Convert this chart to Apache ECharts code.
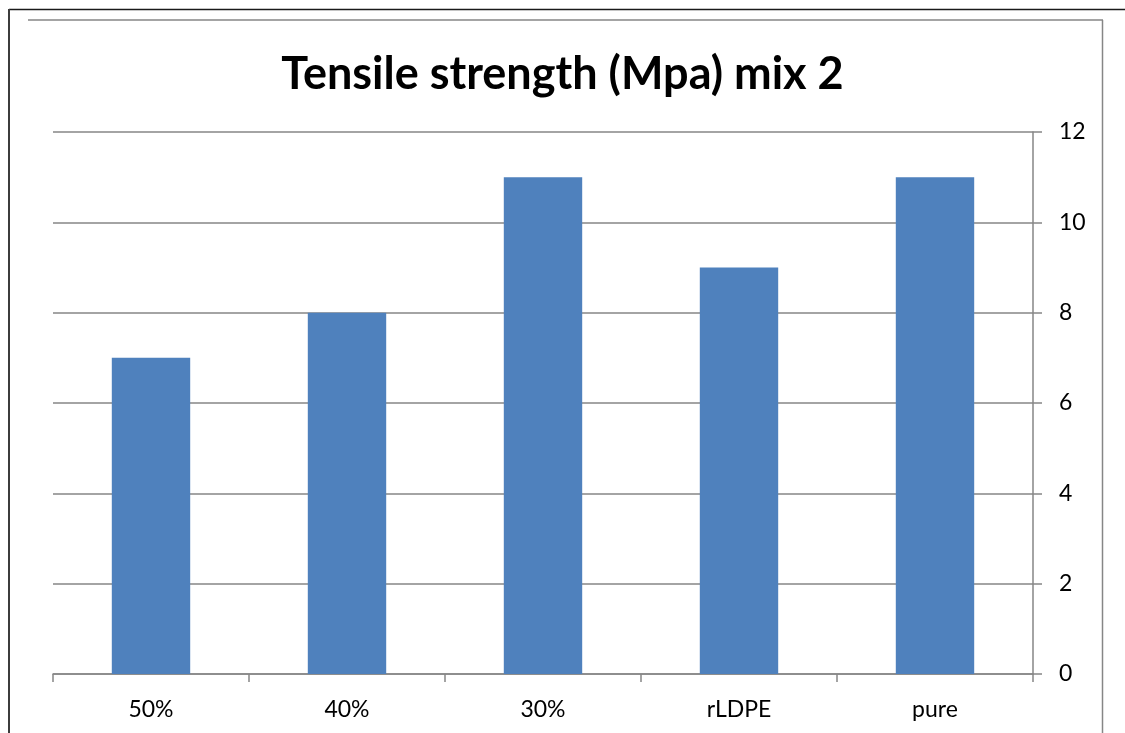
<!DOCTYPE html>
<html>
<head>
<meta charset="utf-8">
<style>
  html, body { margin: 0; padding: 0; background: #ffffff; }
  #chart { width: 1125px; height: 733px; }
</style>
<script src="https://cdn.jsdelivr.net/npm/echarts@6/dist/echarts.min.js"></script>
</head>
<body>
<div id="chart"></div>
<script>
// Sample groups and their tensile strength (MPa)
const categories = ['50%', '40%', '30%', 'rLDPE', 'pure'];
const tensileStrength = [7, 8, 11, 9, 11];
const yTicks = [0, 2, 4, 6, 8, 10, 12];

const chart = echarts.init(document.getElementById('chart'), null, { renderer: 'canvas' });
const FONT = 'Lato, "Open Sans", sans-serif';
const AXIS_GRAY = '#868686';

chart.setOption({
  animation: false,
  backgroundColor: '#ffffff',
  title: {
    text: 'Tensile strength (Mpa) mix 2',
    left: 'center',
    top: 47,
    textStyle: { fontFamily: FONT, fontWeight: 'bold', fontSize: 45, color: '#000000' }
  },
  grid: { left: 53, right: 92, top: 132, bottom: 59, containLabel: false },
  xAxis: {
    type: 'category',
    data: categories,
    boundaryGap: true,
    axisLine: { show: true, lineStyle: { color: AXIS_GRAY, width: 1.5 } },
    axisTick: { show: true, length: 8, lineStyle: { color: AXIS_GRAY, width: 1.5 } },
    axisLabel: { margin: 24, fontFamily: FONT, fontSize: 23, color: '#000000' },
    splitLine: { show: false }
  },
  yAxis: {
    type: 'value',
    position: 'right',
    min: yTicks[0],
    max: yTicks[yTicks.length - 1],
    interval: 2,
    axisLine: { show: true, lineStyle: { color: AXIS_GRAY, width: 1.5 } },
    axisTick: { show: true, length: 9, lineStyle: { color: AXIS_GRAY, width: 1.5 } },
    axisLabel: {
      margin: 26,
      align: 'left',
      formatter: v => '{v|' + v + '}',
      rich: { v: { width: 28, align: 'left', fontFamily: FONT, fontSize: 23, color: '#000000' } }
    },
    splitLine: { show: true, lineStyle: { color: AXIS_GRAY, width: 1.5 } }
  },
  series: [{
    type: 'bar',
    data: tensileStrength,
    barCategoryGap: '60%',
    itemStyle: { color: '#4F81BD' }
  }],
  graphic: [
    // outer chart border
    { type: 'line', shape: { x1: 9, y1: 9.5, x2: 1125, y2: 9.5 }, style: { stroke: '#1a1a1a', lineWidth: 1.5 } },
    { type: 'line', shape: { x1: 9, y1: 9, x2: 9, y2: 733 }, style: { stroke: '#3c3c3c', lineWidth: 2 } },
    // inner frame
    { type: 'line', shape: { x1: 28, y1: 20, x2: 1103, y2: 20 }, style: { stroke: AXIS_GRAY, lineWidth: 1.5 } },
    { type: 'line', shape: { x1: 1102.5, y1: 20, x2: 1102.5, y2: 733 }, style: { stroke: AXIS_GRAY, lineWidth: 1.5 } }
  ]
});
</script>
</body>
</html>
